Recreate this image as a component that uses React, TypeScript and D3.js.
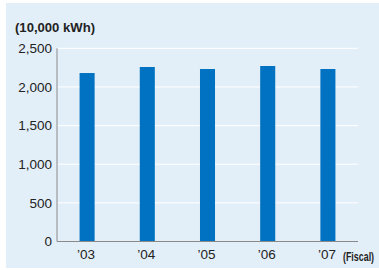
import React from 'react';
import * as d3 from 'd3';

const years = ['03', '04', '05', '06', '07'];
const usage = [2180, 2258, 2232, 2271, 2232];
const yTicks = [0, 500, 1000, 1500, 2000, 2500];

const W = 379;
const H = 270;
const left = 57;
const right = 358;
const top = 48.3;
const bottom = 241.5;

const App = () => {
  const x = d3.scaleBand().domain(years).range([left, right]).paddingInner(0.75).paddingOuter(0.375);
  const y = d3.scaleLinear().domain([0, 2500]).range([bottom, top]);
  const fmt = d3.format(',');

  return (
    <div style={{ position: 'absolute', left: 0, top: 0 }}>
      <svg width={W} height={H} style={{ display: 'block', fontFamily: 'Arial, "Liberation Sans", sans-serif' }}>
        <rect x={6} y={3} width={W - 6} height={265} fill="#e3eff8" />

        {/* gridlines */}
        {yTicks.filter(t => t > 0).map(t => (
          <line key={t} x1={left} x2={right} y1={y(t)} y2={y(t)} stroke="#ffffff" strokeWidth={1} />
        ))}

        {/* bars */}
        {years.map((yr, i) => (
          <rect key={yr} x={x(yr)} y={y(usage[i])} width={x.bandwidth()} height={bottom - y(usage[i])} fill="#0072c1" />
        ))}

        {/* axes */}
        <line x1={left} x2={left} y1={top} y2={bottom} stroke="#8a8a8a" strokeWidth={1} />
        <line x1={left} x2={right} y1={bottom} y2={bottom} stroke="#8a8a8a" strokeWidth={1} />

        {yTicks.map(t => (
          <text key={t} x={52} y={y(t)} dy="0.36em" textAnchor="end" fontSize={13.5} fill="#222">
            {fmt(t)}
          </text>
        ))}

        {years.map(yr => (
          <text key={yr} x={(x(yr) as number) + x.bandwidth() / 2 - 1} y={259} textAnchor="middle" fontSize={13.5} fill="#222">
            {'\u2019' + yr}
          </text>
        ))}

        <text x={15} y={32} fontSize={13} fontWeight="bold" fill="#222" textLength={80} lengthAdjust="spacingAndGlyphs">
          (10,000 kWh)
        </text>
        {/* condensed label */}
        <g transform="translate(343,261) scale(0.74,1)">
          <text x={0} y={0} fontSize={12} fontWeight="bold" fill="#222">
            (Fiscal)
          </text>
        </g>
      </svg>
    </div>
  );
};

export default App;
